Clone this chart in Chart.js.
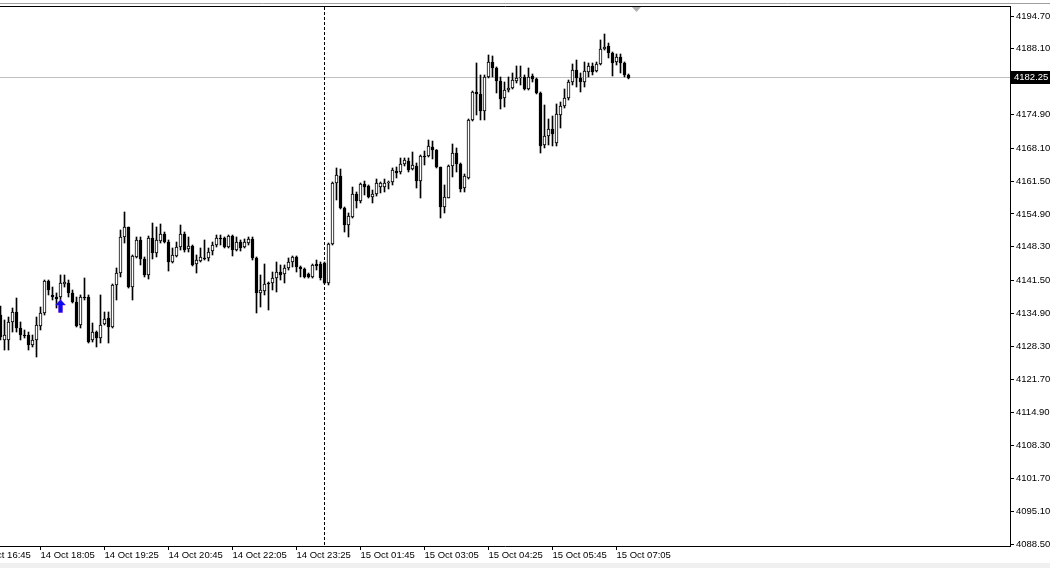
<!DOCTYPE html>
<html><head><meta charset="utf-8">
<script src="https://cdn.jsdelivr.net/npm/chart.js@4.4.1/dist/chart.umd.min.js"></script>
<style>html,body{margin:0;padding:0;background:#fff;overflow:hidden}canvas{display:block}</style>
</head><body>
<canvas id="c" width="1050" height="568"></canvas>
<script>
// ---- data (5-minute bars, index 0 = first visible bar) ----
const opens = [
4134.57,4129.55,4129.55,4133.17,4135.18,4131.96,4130.55,4130.55,4128.54,4129.55,
4132.36,4134.98,4141.41,4138.60,4138.19,4138.19,4140.81,4141.01,4139.00,4137.19,
4132.56,4138.19,4138.19,4129.55,4131.15,4129.95,4132.76,4133.97,4132.16,4140.61,
4143.02,4150.26,4152.27,4140.20,4146.24,4149.66,4145.84,4142.62,4150.06,4147.04,
4149.45,4150.86,4149.25,4145.23,4146.44,4148.25,4150.86,4147.85,4148.45,4144.83,
4145.43,4146.04,4146.04,4147.44,4148.65,4150.06,4150.06,4148.25,4150.46,4147.64,
4149.25,4148.25,4149.05,4149.86,4146.04,4139.00,4139.40,4141.01,4141.01,4142.01,
4143.22,4142.82,4144.03,4145.23,4146.24,4144.23,4143.82,4142.82,4142.22,4144.83,
4144.83,4145.03,4141.01,4148.85,4161.12,4162.53,4156.09,4152.67,4154.28,4158.91,
4157.50,4160.92,4160.52,4158.30,4158.91,4160.31,4160.31,4161.12,4161.32,4163.53,
4163.33,4164.94,4165.54,4163.93,4164.54,4161.52,4166.55,4166.55,4168.36,4167.75,
4164.34,4156.29,4158.10,4164.54,4167.15,4164.94,4160.11,4162.12,4173.79,4179.42,
4179.02,4175.60,4182.44,4185.45,4184.25,4181.63,4178.21,4179.82,4180.22,4181.63,
4182.24,4182.44,4180.02,4182.64,4182.03,4179.22,4168.76,4170.57,4171.98,4169.16,
4174.79,4176.60,4178.21,4181.43,4183.84,4182.23,4181.43,4183.44,4184.65,4183.64,
4185.05,4188.07,4188.67,4187.26,4185.45,4186.46,4185.25,4182.84];
const highs = [
4136.38,4133.57,4134.17,4135.98,4137.99,4133.17,4131.56,4131.15,4130.55,4134.17,
4136.18,4141.61,4141.61,4140.20,4139.00,4142.62,4142.62,4141.61,4139.60,4138.19,
4138.60,4142.01,4138.60,4132.96,4131.36,4138.60,4135.18,4135.18,4140.81,4144.03,
4151.67,4155.29,4152.27,4146.64,4150.26,4150.26,4146.24,4150.46,4153.07,4152.27,
4152.87,4151.26,4149.66,4148.05,4149.25,4152.67,4151.26,4150.26,4148.65,4146.64,
4148.05,4149.66,4148.05,4149.25,4150.66,4150.66,4150.26,4150.66,4150.66,4150.26,
4149.66,4149.86,4150.26,4150.26,4146.24,4142.62,4144.83,4141.21,4143.22,4145.23,
4144.63,4144.63,4146.04,4146.44,4146.44,4144.43,4144.03,4143.02,4144.83,4145.63,
4145.23,4145.23,4149.05,4161.32,4164.14,4163.93,4156.29,4155.09,4160.31,4159.31,
4161.12,4161.52,4160.72,4159.71,4161.92,4161.32,4161.92,4161.52,4164.14,4164.34,
4166.15,4166.15,4166.15,4167.35,4165.14,4166.75,4167.55,4169.77,4169.56,4167.85,
4164.34,4160.72,4164.74,4168.96,4168.16,4165.14,4162.93,4173.99,4179.62,4185.25,
4182.84,4182.84,4186.86,4186.66,4184.45,4182.44,4181.43,4182.44,4183.24,4184.65,
4184.65,4182.84,4184.25,4183.04,4182.23,4179.42,4176.80,4173.99,4174.59,4177.01,
4177.41,4180.02,4181.83,4185.05,4185.85,4183.24,4185.45,4185.25,4185.25,4185.45,
4189.88,4191.08,4189.27,4187.46,4187.06,4187.06,4185.45,4183.04];
const lows = [
4129.55,4127.53,4127.53,4131.15,4131.15,4129.55,4129.95,4127.53,4128.14,4126.13,
4131.56,4134.57,4138.60,4137.59,4135.98,4137.59,4140.20,4138.19,4136.99,4132.16,
4131.96,4137.59,4128.94,4129.14,4128.14,4128.94,4132.56,4128.94,4131.96,4137.59,
4142.22,4149.05,4140.00,4137.59,4146.04,4144.63,4142.22,4141.81,4145.84,4146.24,
4149.05,4149.05,4143.42,4145.03,4146.24,4147.64,4147.24,4147.24,4144.43,4143.02,
4145.23,4145.63,4145.43,4146.64,4148.25,4148.65,4148.05,4148.05,4146.44,4147.44,
4147.44,4148.05,4148.65,4145.63,4134.98,4136.18,4138.60,4135.58,4139.60,4139.20,
4141.61,4141.01,4143.62,4144.23,4143.22,4142.22,4142.01,4142.01,4142.01,4143.62,
4141.61,4140.81,4140.61,4148.65,4157.70,4155.89,4151.26,4150.26,4154.08,4156.09,
4157.10,4158.71,4158.10,4157.10,4158.50,4159.11,4159.31,4159.91,4160.72,4162.12,
4162.93,4164.54,4163.33,4163.73,4160.11,4158.10,4164.74,4166.35,4165.95,4164.14,
4154.08,4155.09,4158.10,4162.33,4163.33,4159.31,4159.31,4161.92,4173.59,4174.79,
4173.79,4173.79,4182.24,4182.44,4179.22,4176.00,4176.40,4179.42,4180.02,4181.23,
4180.83,4179.82,4179.82,4181.43,4179.02,4167.15,4168.16,4168.76,4168.56,4168.56,
4172.18,4176.20,4177.81,4180.83,4180.42,4179.42,4180.42,4182.44,4182.84,4183.44,
4184.85,4187.86,4186.26,4182.64,4184.85,4183.24,4182.44,4182.05];
const closes = [
4130.15,4130.55,4133.17,4135.18,4131.96,4130.55,4130.35,4128.54,4129.55,4132.56,
4134.98,4141.41,4139.60,4138.19,4137.79,4141.01,4141.21,4139.00,4137.19,4132.36,
4138.19,4137.99,4129.14,4131.15,4129.95,4132.56,4133.77,4132.16,4140.61,4143.02,
4150.26,4152.27,4140.20,4146.44,4149.66,4145.84,4142.62,4150.06,4147.04,4149.66,
4150.86,4149.25,4145.23,4146.64,4148.25,4150.86,4147.64,4148.45,4144.63,4145.63,
4146.24,4145.84,4147.24,4148.65,4150.06,4149.86,4148.25,4150.46,4147.64,4149.25,
4148.05,4149.25,4149.86,4146.04,4139.00,4139.60,4140.81,4140.81,4142.01,4143.22,
4142.62,4144.03,4145.23,4146.24,4144.23,4143.82,4142.22,4142.22,4144.63,4144.43,
4142.01,4141.01,4148.85,4161.12,4162.73,4156.09,4152.67,4154.48,4158.91,4157.50,
4160.92,4160.31,4158.30,4158.91,4161.12,4161.12,4161.12,4161.32,4163.73,4163.13,
4164.94,4165.74,4163.73,4164.74,4161.52,4166.55,4166.35,4168.56,4167.75,4164.34,
4156.29,4158.30,4164.54,4167.15,4164.94,4159.91,4162.53,4173.79,4179.42,4179.02,
4175.60,4182.44,4185.45,4184.25,4181.63,4178.01,4179.82,4180.22,4181.83,4182.23,
4182.44,4180.02,4182.44,4182.03,4179.22,4168.56,4170.57,4171.98,4170.97,4174.99,
4176.60,4178.21,4181.43,4183.84,4182.23,4181.43,4183.64,4184.65,4183.44,4185.05,
4188.07,4188.47,4187.26,4185.25,4186.46,4185.25,4182.84,4182.25];

const timeLabels    = ['14 Oct 16:45','14 Oct 18:05','14 Oct 19:25','14 Oct 20:45','14 Oct 22:05','14 Oct 23:25','15 Oct 01:45','15 Oct 03:05','15 Oct 04:25','15 Oct 05:45','15 Oct 07:05'];
const timeLabelBars = [-6, 10, 26, 42, 58, 74, 90, 106, 122, 138, 154];
const priceTicks = [4194.70,4188.10,4181.50,4174.90,4168.10,4161.50,4154.90,4148.30,4141.50,4134.90,4128.30,4121.70,4114.90,4108.30,4101.70,4095.10,4088.50];
const separatorBars = [81];          // 15 Oct 00:00 period separator
const buySignal = [{bar: 15, price: 4136.38}];
const shiftMarkerBar = [159];
const bidPrice = closes[closes.length - 1];
const priceMin = 4088.12, priceMax = 4196.51;
const barMin = -0.125, barMax = 252.375;

// ---- build datasets ----
const wickData = lows.map((l, i) => ({x: i, y: [l, highs[i]]}));
const bodyData = opens.map((o, i) => ({x: i, y: [o, closes[i]]}));
const bodyFill = opens.map((o, i) => closes[i] >= o ? '#ffffff' : '#000000');

const arrow = document.createElement('canvas');
arrow.width = 11; arrow.height = 14;
(function(){
  const g = arrow.getContext('2d');
  g.beginPath();
  g.moveTo(5.5, 0.5); g.lineTo(10.5, 6); g.lineTo(7.5, 6); g.lineTo(7.5, 13.5);
  g.lineTo(3.5, 13.5); g.lineTo(3.5, 6); g.lineTo(0.5, 6); g.closePath();
  g.strokeStyle = 'rgba(200,60,200,0.55)'; g.lineWidth = 1; g.stroke();
  g.fillStyle = '#0a0af0'; g.fill();
})();

const FONT = {family: 'Liberation Sans', size: 9.5};

const mt4 = {
  id: 'mt4',
  beforeDraw(chart) {
    const {ctx} = chart;
    ctx.save();
    ctx.fillStyle = '#f0f0f0';
    ctx.fillRect(0, 563, chart.width, chart.height - 563);
    ctx.restore();
  },
  beforeDatasetsDraw(chart) {
    const {ctx, chartArea: a, scales: {x, y}} = chart;
    ctx.save();
    const py = Math.floor(y.getPixelForValue(bidPrice)) + 0.5;
    ctx.strokeStyle = '#c0c0c0'; ctx.lineWidth = 1;
    ctx.beginPath(); ctx.moveTo(a.left, py); ctx.lineTo(a.right, py); ctx.stroke();
    ctx.strokeStyle = '#000'; ctx.setLineDash([3, 2]);
    separatorBars.forEach(b => {
      const px = Math.floor(x.getPixelForValue(b)) + 0.5;
      ctx.beginPath(); ctx.moveTo(px, a.top); ctx.lineTo(px, a.bottom); ctx.stroke();
    });
    ctx.restore();
  },
  afterDraw(chart) {
    const {ctx, chartArea: a, scales: {x, y}} = chart;
    ctx.save();
    // top frame
    ctx.strokeStyle = '#a0a0a0'; ctx.lineWidth = 1;
    ctx.beginPath(); ctx.moveTo(0, 3.5); ctx.lineTo(chart.width, 3.5); ctx.stroke();
    ctx.strokeStyle = '#000';
    ctx.beginPath(); ctx.moveTo(a.left, Math.round(a.top) - 0.5); ctx.lineTo(a.right + 1, Math.round(a.top) - 0.5); ctx.stroke();
    // shift marker
    shiftMarkerBar.forEach(b => {
      const px = x.getPixelForValue(b);
      ctx.fillStyle = '#b0b0b0';
      ctx.beginPath(); ctx.moveTo(px - 4.5, a.top); ctx.lineTo(px + 4.5, a.top); ctx.lineTo(px, a.top + 5); ctx.closePath(); ctx.fill();
    });
    // bid price box
    const py = Math.floor(y.getPixelForValue(bidPrice));
    ctx.fillStyle = '#000';
    ctx.fillRect(Math.round(a.right) + 1, py - 6, chart.width - a.right - 1, 13);
    ctx.fillStyle = '#fff';
    ctx.font = '9.5px "Liberation Sans"';
    ctx.textBaseline = 'middle'; ctx.textAlign = 'left';
    ctx.fillText(bidPrice.toFixed(2), Math.round(a.right) + 4, py + 0.5);
    ctx.restore();
  }
};

new Chart(document.getElementById('c'), {
  type: 'bar',
  data: {
    datasets: [
      {
        type: 'line', data: buySignal.map(s => ({x: s.bar, y: s.price})),
        showLine: false, pointStyle: arrow, pointRadius: 5, pointHoverRadius: 5, order: 0
      },
      {
        data: bodyData, grouped: false, barThickness: 3,
        backgroundColor: bodyFill, borderColor: '#000', borderWidth: 1,
        borderSkipped: false, order: 1
      },
      {
        data: wickData, grouped: false, barThickness: 1,
        backgroundColor: '#000', borderWidth: 0, order: 2
      }
    ]
  },
  options: {
    responsive: false, animation: false, devicePixelRatio: 1,
    layout: {autoPadding: false, padding: {top: 7, left: 0, right: 0, bottom: 0}},
    plugins: {legend: {display: false}, tooltip: {enabled: false}},
    scales: {
      x: {
        type: 'linear', min: barMin, max: barMax, offset: false, bounds: 'data',
        afterBuildTicks(s) { s.ticks = timeLabelBars.map(v => ({value: v})); },
        afterFit(s) { s.height = 22; s.paddingLeft = 0; s.paddingRight = 0; },
        grid: {drawOnChartArea: false, drawTicks: true, tickLength: 4, color: '#000', offset: false},
        border: {display: true, color: '#000'},
        ticks: {
          autoSkip: false, maxRotation: 0, minRotation: 0, align: 'start', padding: 0,
          color: '#000', font: FONT,
          callback: v => timeLabels[timeLabelBars.indexOf(v)]
        }
      },
      y: {
        type: 'linear', position: 'right', min: priceMin, max: priceMax, bounds: 'data',
        afterBuildTicks(s) { s.ticks = priceTicks.map(v => ({value: v})); },
        afterFit(s) { s.width = 40; s.paddingTop = 0; s.paddingBottom = 0; },
        grid: {drawOnChartArea: false, drawTicks: true, tickLength: 4, color: '#000'},
        border: {display: true, color: '#000'},
        ticks: {padding: 2, color: '#000', font: FONT, callback: v => Number(v).toFixed(2)}
      }
    }
  },
  plugins: [mt4]
});
</script>
</body></html>
